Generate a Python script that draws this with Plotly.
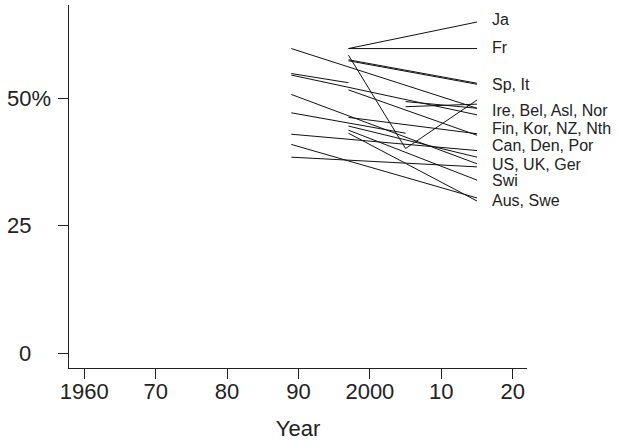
import plotly.graph_objects as go

# Survey years
years = [1989, 1997, 2005, 2015]

# Values (%) per line at each survey year (None = no observation)
s01 = [None, 59.7, None, 64.9]
s02 = [None, 59.7, None, 59.7]
s03 = [59.7, None, None, 48.0]
s04 = [None, 58.4, 40.1, 49.6]
s05 = [None, 57.5, None, 52.9]
s06 = [None, 57.3, None, 52.7]
s07 = [54.8, 53.0, None, None]
s08 = [54.5, None, None, 46.7]
s09 = [None, 51.6, None, 42.7]
s10 = [None, None, 49.3, 48.0]
s11 = [None, None, 48.3, 48.8]
s12 = [50.7, None, None, 37.1]
s13 = [47.1, None, 43.1, None]
s14 = [None, 46.2, None, 43.0]
s15 = [42.9, None, None, 39.7]
s16 = [40.9, None, None, 30.4]
s17 = [38.4, None, None, 36.5]
s18 = [None, 44.5, None, 38.4]
s19 = [None, 43.7, None, 33.9]
s20 = [None, 43.1, None, 29.8]
series = [s01, s02, s03, s04, s05, s06, s07, s08, s09, s10,
          s11, s12, s13, s14, s15, s16, s17, s18, s19, s20]

# Country group labels and their vertical positions (%)
group_labels = ["Ja", "Fr", "Sp, It", "Ire, Bel, Asl, Nor", "Fin, Kor, NZ, Nth",
                "Can, Den, Por", "US, UK, Ger", "Swi", "Aus, Swe"]
group_label_y = [65.3, 60.0, 52.7, 47.6, 44.0, 40.6, 36.9, 33.9, 30.0]

# Axis ticks
x_tickvals = [1960, 1970, 1980, 1990, 2000, 2010, 2020]
x_ticktext = ["1960", "70", "80", "90", "2000", "10", "20"]
y_tickvals = [0, 25, 50]
y_ticktext = ["0", "25", "50%"]

FONT = "Liberation Sans, Arial, Helvetica, sans-serif"
INK = "#222222"

fig = go.Figure()
for s in series:
    fig.add_trace(go.Scatter(x=years, y=s, mode="lines", connectgaps=True,
                             line=dict(color="#111111", width=1),
                             showlegend=False, hoverinfo="skip"))

L, R, T, B = 69, 91, 5, 79
W, H = 618, 447
pw = W - L - R

annotations = []
for txt, yv in zip(group_labels, group_label_y):
    annotations.append(dict(x=(491 - L) / pw, xref="paper", y=yv, yref="y",
                            text=txt, showarrow=False, xanchor="left",
                            yanchor="middle", borderpad=0,
                            font=dict(family=FONT, size=16, color=INK)))
for txt, yv in zip(y_ticktext, y_tickvals):
    right_px = 53 if txt.endswith("%") else 33
    annotations.append(dict(x=(right_px - L) / pw, xref="paper", y=yv, yref="y",
                            text=txt, showarrow=False, xanchor="right",
                            yanchor="middle",
                            font=dict(family=FONT, size=22, color=INK)))

fig.update_layout(
    width=W, height=H,
    margin=dict(l=L, r=R, t=T, b=B),
    paper_bgcolor="white", plot_bgcolor="white",
    font=dict(family=FONT, color=INK),
    annotations=annotations,
    xaxis=dict(range=[1957.87, 2022.0], tickvals=x_tickvals, ticktext=x_ticktext,
               showline=True, linecolor=INK, linewidth=1, ticks="outside",
               ticklen=10, tickcolor=INK, tickwidth=1, showgrid=False,
               zeroline=False, tickfont=dict(size=22, family=FONT, color=INK),
               ticklabelstandoff=-6,
               title=dict(text="Year", font=dict(size=22, family=FONT, color=INK),
                          standoff=17)),
    yaxis=dict(range=[-2.94, 68.24], tickvals=y_tickvals, showticklabels=False,
               showline=True, linecolor=INK, linewidth=1, ticks="outside",
               ticklen=10, tickcolor=INK, tickwidth=1, showgrid=False,
               zeroline=False),
)

fig.write_html("out.html", config={"displayModeBar": False},
               post_script="document.body.style.margin='0';document.body.style.padding='0';")
